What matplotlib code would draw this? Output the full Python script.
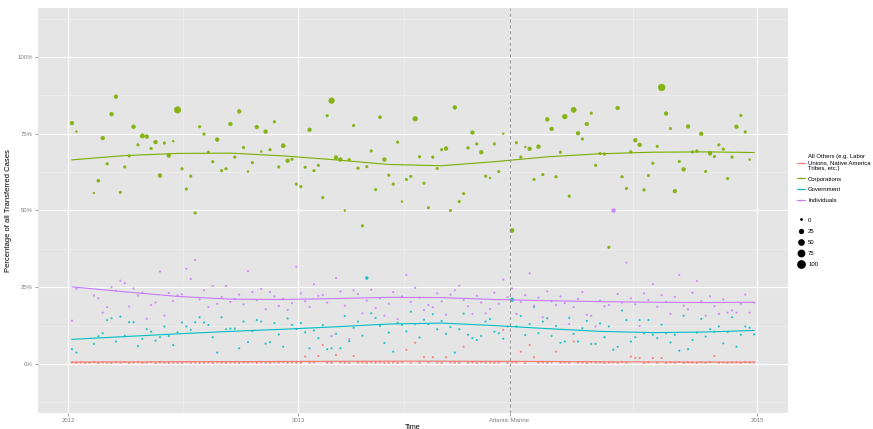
import numpy as np
import matplotlib
matplotlib.use("Agg")
import matplotlib.pyplot as plt
import matplotlib.dates as mdates
from matplotlib.lines import Line2D

plt.rcParams["font.family"] = ["Liberation Sans", "DejaVu Sans"]

# weekly share of transferred cases by transferee type (weeks counted from 2012-01-07)
green_week = [0, 1, 5, 6, 7, 8, 9, 10, 11, 12, 13, 14, 15, 16, 17, 18, 19, 20, 21, 22, 23, 24, 25, 26, 27, 28,
              29, 30, 31, 32, 33, 34, 35, 36, 37, 38, 39, 40, 41, 42, 43, 44, 45, 46, 47, 48, 49, 50, 51, 52,
              53, 54, 55, 56, 57, 58, 59, 60, 61, 62, 63, 64, 65, 66, 67, 68, 69, 70, 71, 72, 73, 74, 75, 76,
              77, 78, 79, 80, 81, 82, 83, 84, 85, 86, 87, 88, 89, 90, 91, 92, 93, 94, 95, 96, 97, 98, 100, 101,
              102, 103, 104, 105, 106, 107, 108, 109, 110, 111, 112, 113, 114, 115, 116, 117, 118, 119, 120, 121,
              122, 124, 125, 126, 127, 128, 129, 130, 131, 132, 133, 134, 135, 136, 137, 138, 139, 140, 141, 142,
              143, 144, 145, 146, 147, 148, 149, 150, 151, 152, 153, 154]
green_pct = [78.5, 75.7, 55.7, 59.7, 73.6, 65.2, 81.4, 87.1, 55.9, 64.2, 67.8, 77.3, 71.4, 74.3, 74.1, 70.2,
             72.3, 61.4, 72.0, 67.9, 72.6, 82.8, 63.6, 57.0, 61.2, 49.2, 77.3, 74.9, 69.0, 65.9, 73.1, 63.0,
             63.6, 78.2, 67.4, 82.3, 70.5, 62.7, 65.6, 77.2, 69.2, 75.7, 69.8, 78.9, 64.2, 71.1, 66.2, 66.7,
             58.6, 57.8, 64.1, 76.3, 63.0, 64.7, 54.2, 80.9, 85.8, 67.3, 66.6, 50.0, 66.6, 77.7, 63.8, 45.0,
             64.3, 69.4, 56.8, 80.4, 66.6, 61.5, 58.6, 72.3, 52.9, 60.1, 61.1, 79.9, 67.5, 58.9, 50.9, 67.4,
             63.7, 69.8, 70.2, 50.0, 83.6, 52.9, 55.5, 70.4, 75.4, 71.7, 69.0, 61.2, 60.6, 71.7, 62.7, 75.0,
             43.5, 72.1, 67.4, 70.7, 70.1, 60.1, 70.8, 61.7, 79.7, 76.6, 61.0, 69.0, 80.6, 54.7, 82.8, 75.2,
             73.3, 78.2, 81.7, 64.7, 68.6, 68.4, 38.0, 83.4, 61.0, 57.2, 69.1, 72.9, 71.4, 56.7, 61.4, 65.4,
             70.9, 90.1, 81.6, 76.7, 56.3, 66.0, 63.4, 77.4, 69.1, 69.4, 75.0, 62.7, 68.6, 67.6, 71.4, 70.0,
             60.4, 67.4, 77.3, 81.0, 75.6, 66.6]
green_n = [25, 4, 4, 15, 25, 10, 25, 25, 10, 10, 10, 25, 10, 35, 25, 10, 25, 25, 10, 25, 4, 80, 10, 10, 10, 10,
           10, 10, 10, 10, 25, 10, 10, 25, 10, 25, 10, 4, 10, 25, 4, 25, 10, 10, 10, 30, 25, 10, 10, 10,
           10, 25, 10, 10, 10, 10, 60, 25, 25, 4, 10, 10, 10, 10, 10, 10, 10, 15, 25, 10, 10, 10, 4, 10,
           10, 40, 10, 10, 10, 10, 10, 10, 25, 10, 25, 10, 10, 10, 25, 10, 25, 10, 4, 10, 10, 4, 30, 10,
           10, 4, 25, 10, 25, 10, 25, 25, 10, 10, 40, 10, 50, 25, 10, 25, 10, 10, 10, 10,
           10, 25, 10, 10, 10, 25, 25, 10, 10, 10, 10, 90, 25, 10, 25, 10, 25, 25, 10, 10,
           25, 10, 25, 10, 10, 10, 10, 10, 25, 10, 10, 4]

# Government and Individuals: weeks 0, 1 and 5..155
low_week = [0, 1] + list(range(5, 156))
cyan_pct = [4.8, 3.7, 6.5, 9.0, 10.0, 14.3, 14.9, 7.3, 15.4, 9.2, 13.6, 13.6, 5.8, 8.2, 11.3, 10.5, 7.6,
            8.7, 12.2, 9.1, 6.1, 10.3, 13.5, 12.2, 11.1, 13.6, 15.2, 13.5, 12.7, 8.7, 3.7, 15.2, 11.3, 11.5,
            11.5, 5.1, 13.8, 7.1, 10.7, 14.3, 13.8, 6.6, 7.1, 13.3, 9.6, 5.6, 14.8, 12.7, 11.4, 13.3, 10.3,
            5.1, 10.9, 8.4, 12.6, 4.8, 5.1, 9.8, 5.1, 15.6, 7.4, 11.8, 13.8, 9.2, 28.0, 16.5, 15.0, 12.4, 6.8,
            10.2, 4.0, 13.4, 12.7, 10.6, 17.0, 13.0, 8.6, 14.4, 13.0, 16.2, 11.3, 14.0, 9.8, 12.0, 3.7, 11.3,
            16.4, 9.5, 8.4, 7.8, 9.1, 13.8, 14.6, 10.5, 10.0, 8.2, 12.2, 20.9, 12.2, 15.6, 9.4, 13.0, 18.5,
            10.0, 13.8, 14.9, 9.1, 12.4, 6.9, 7.3, 15.0, 9.8, 7.3, 11.6, 14.0, 6.5, 6.5, 13.2, 8.7, 12.2, 4.6,
            5.6, 17.4, 14.3, 7.3, 8.7, 14.3, 10.0, 14.3, 9.5, 8.4, 12.8, 10.0, 7.0, 9.5, 4.3, 15.7, 4.8, 7.8,
            10.2, 14.7, 8.9, 11.3, 10.5, 12.2, 6.7, 10.4, 15.2, 5.6, 9.5, 12.2, 11.8, 9.6]
purple_pct = [14.1, 24.5, 22.3, 21.4, 16.7, 18.5, 25.0, 23.8, 27.1, 26.3, 18.7, 24.6, 22.3, 23.2, 14.7, 19.2,
              20.0, 30.1, 15.7, 23.1, 20.5, 22.4, 22.7, 31.0, 27.7, 33.9, 21.0, 24.0, 18.5, 25.4, 19.6, 21.8,
              25.4, 20.2, 21.2, 22.6, 19.4, 30.2, 23.4, 20.8, 24.4, 17.8, 23.4, 22.0, 18.9, 21.2, 17.6, 19.8,
              31.7, 23.0, 20.4, 18.6, 26.0, 22.2, 22.5, 20.0, 9.1, 28.0, 23.6, 19.0, 8.1, 24.0, 22.8, 16.5,
              20.6, 24.2, 18.2, 21.4, 15.7, 19.6, 23.4, 14.6, 22.0, 29.0, 20.2, 24.8, 21.6, 17.6, 19.2, 18.5,
              23.0, 20.4, 16.0, 22.6, 24.0, 25.5, 20.8, 18.8, 16.3, 22.2, 20.0, 16.5, 17.9, 23.2, 19.6, 27.5,
              21.8, 24.6, 16.3, 20.2, 22.4, 29.5, 19.0, 21.6, 15.2, 23.6, 20.4, 19.2, 22.0, 19.8, 13.0, 18.5,
              21.2, 23.4, 16.0, 15.7, 12.2, 20.6, 18.8, 19.2, 50.0, 22.8, 20.0, 33.0, 21.4, 19.4, 12.4, 23.0,
              20.8, 26.0, 18.6, 22.4, 20.2, 16.3, 21.8, 29.0, 19.0, 17.8, 23.2, 27.0, 20.4, 15.7, 22.0, 18.8,
              16.3, 21.0, 16.7, 17.4, 16.7, 19.6, 22.6, 16.7, 20.0]
cyan_big = {67: 12, 100: 25}
purple_big = {123: 25}

red_pct = [0.4, 0.3, 0.5, 0.3, 0.4, 0.6, 0.3, 0.5, 0.4, 0.3, 0.5, 0.4, 0.6, 0.3, 0.4, 0.5, 0.3, 0.4, 0.6, 0.3,
           0.5, 0.4, 0.3, 0.5, 0.4, 0.3, 0.6, 0.4, 0.5, 0.3, 0.4, 0.5, 0.3, 0.6, 0.4, 0.3, 0.5, 0.4, 0.3, 0.5,
           0.4, 0.6, 0.3, 0.5, 0.4, 0.3, 0.5, 0.4, 0.6, 0.3, 0.5, 0.4, 0.3, 2.4, 0.4, 0.5, 2.6, 6.2, 0.4, 0.3,
           2.9, 0.5, 0.4, 0.3, 2.6, 0.4, 0.5, 0.3, 0.6, 0.4, 0.5, 0.3, 0.4, 0.5, 0.3, 0.6, 4.6, 0.4, 6.9, 0.3,
           2.2, 0.5, 2.2, 0.4, 0.3, 2.2, 0.5, 0.4, 0.3, 5.6, 0.4, 0.5, 0.3, 0.6, 0.4, 0.5, 0.3, 0.4, 11.1, 0.3,
           0.5, 0.4, 4.0, 0.3, 6.2, 2.2, 0.4, 0.5, 0.3, 0.6, 4.0, 0.4, 0.5, 0.3, 7.3, 0.4, 0.5, 0.3, 0.6, 0.4,
           0.5, 0.3, 0.4, 0.5, 0.3, 0.6, 0.4, 2.4, 1.9, 1.9, 0.3, 0.5, 1.9, 0.4, 1.9, 0.3, 0.5, 0.4, 0.6, 0.3,
           0.5, 0.4, 0.3, 0.5, 0.4, 0.6, 2.6, 0.4, 0.5, 0.3, 0.4, 0.5, 0.3, 0.6, 0.4, 0.5]
stray_week = [3, 4]
stray_pct = [100.0, 100.0]

# fitted trend per type, sampled every 12 weeks
trend_week = [0, 12, 24, 36, 48, 60, 72, 84, 96, 108, 120, 132, 144, 155]
red_trend = [0.6, 0.65, 0.7, 0.75, 0.8, 0.85, 0.9, 0.9, 0.85, 0.8, 0.7, 0.65, 0.6, 0.6]
green_trend = [66.5, 67.9, 68.6, 68.7, 67.8, 66.5, 65.0, 64.6, 65.9, 67.5, 68.5, 69.0, 69.1, 68.9]
cyan_trend = [8.0, 8.9, 9.8, 10.6, 11.3, 12.1, 13.0, 13.3, 12.5, 11.5, 10.6, 10.2, 10.4, 10.9]
purple_trend = [25.1, 23.5, 22.0, 21.1, 21.0, 21.3, 21.7, 21.6, 21.0, 20.6, 20.3, 20.1, 20.0, 20.1]

series = [
    ("All Others (e.g. Labor\nUnions, Native America\nTribes, etc.)", "#F8766D"),
    ("Corporations", "#7CAE00"),
    ("Government", "#00BFC4"),
    ("Individuals", "#C77CFF"),
]
size_breaks = [0, 25, 50, 75, 100]
start = np.datetime64("2012-01-07")
decision_day = np.datetime64("2013-12-03")


def to_dates(weeks):
    return start + np.asarray(np.round(np.asarray(weeks) * 7), dtype="timedelta64[D]")


def area(n):
    return 1.0 + 0.27 * np.asarray(n, dtype=float)


fig = plt.figure(figsize=(8.73, 4.29), dpi=100)
ax = fig.add_axes([38 / 873, 16 / 429, 750 / 873, 405 / 429])
ax.set_facecolor("#E5E5E5")
for s in ax.spines.values():
    s.set_visible(False)

red_week = list(range(len(red_pct)))
points = [
    (red_week, red_pct, [3] * len(red_pct), red_trend),
    (green_week, green_pct, green_n, green_trend),
    (low_week, cyan_pct, [cyan_big.get(w, 3) for w in low_week], cyan_trend),
    (low_week, purple_pct, [purple_big.get(w, 3) for w in low_week], purple_trend),
]

ax.scatter(to_dates(stray_week), stray_pct, s=1.5, color="#F6F6F6", zorder=3, linewidths=0)
for (label, col), (wk, pct, n, trend) in zip(series, points):
    n = np.asarray(n)
    big = n >= 4
    wk = np.asarray(wk)
    pct = np.asarray(pct)
    ax.scatter(to_dates(wk[~big]), pct[~big], s=area(n[~big]) + 0.6, color=col, linewidths=0,
               alpha=0.85, zorder=3)
    ax.scatter(to_dates(wk[big]), pct[big], s=area(n[big]), color=col, edgecolors=col,
               linewidths=0.3, alpha=0.9, zorder=3)
    ax.plot(to_dates(trend_week), trend, color=col, lw=0.8, zorder=4)

ax.axvline(decision_day, color="#7F7F7F", lw=0.6, ls=(0, (4, 3)), zorder=5)

# axes, breaks and grid in the default grey theme
ax.set_ylim(-16, 116)
ax.set_yticks([0, 25, 50, 75, 100])
ax.set_yticklabels(["0%", "25%", "50%", "75%", "100%"])
ax.set_yticks([-12.5, 12.5, 37.5, 62.5, 87.5, 112.5], minor=True)

x_breaks = [np.datetime64("2012-01-01"), np.datetime64("2013-01-01"), decision_day, np.datetime64("2015-01-01")]
ax.set_xlim(mdates.date2num(start - np.timedelta64(54, "D")),
            mdates.date2num(to_dates([155])[0] + np.timedelta64(54, "D")))
ax.set_xticks(mdates.date2num(x_breaks))
ax.set_xticklabels(["2012", "2013", "Atlantic Marine", "2015"])
bn = mdates.date2num(x_breaks)
ax.set_xticks((bn[:-1] + bn[1:]) / 2, minor=True)

ax.grid(True, which="major", color="white", lw=0.8)
ax.grid(True, which="minor", color="#F2F2F2", lw=0.4)
ax.set_axisbelow(True)
ax.tick_params(which="major", length=2.5, width=0.5, color="#7F7F7F", labelcolor="#7F7F7F",
               labelsize=4.3, pad=1.2)
ax.tick_params(which="minor", length=0)

ax.set_xlabel("Time", fontsize=5.2, labelpad=0)
ax.xaxis.set_label_coords(0.5, -0.026)
ax.set_ylabel("Percentage of all Transferred Cases", fontsize=5.5, labelpad=4)

# legends: colour keys, then point sizes
col_handles = [Line2D([], [], color=c, lw=0.8, marker="o", markersize=1.3, markeredgewidth=0)
               for _, c in series]
fig.legend(col_handles, [l for l, _ in series], loc="upper left",
           bbox_to_anchor=(795 / 873, 1 - 152 / 429), frameon=False, fontsize=4.3,
           handlelength=1.2, handletextpad=0.6, labelspacing=0.9, borderaxespad=0)
size_handles = [Line2D([], [], ls="none", marker="o", color="black",
                       markersize=np.sqrt(area(v))) for v in size_breaks]
fig.legend(size_handles, [str(v) for v in size_breaks], loc="upper left",
           bbox_to_anchor=(795 / 873, 1 - 215 / 429), frameon=False, fontsize=4.3,
           handlelength=1.2, handletextpad=0.6, labelspacing=1.0, borderaxespad=0)

fig.savefig("out.png", dpi=100)
